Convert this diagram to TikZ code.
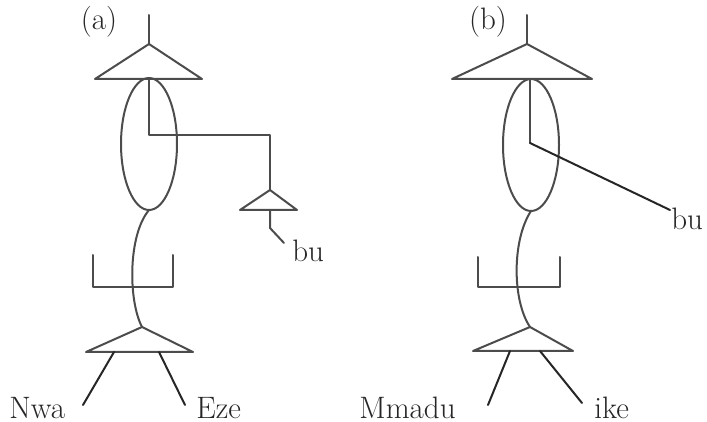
\documentclass[tikz,border=0pt]{standalone}
\begin{document}
\begin{tikzpicture}[
    x=0.5pt, y=-0.5pt,
    every node/.style={font=\fontsize{15.5}{18}\selectfont},
    word/.style={inner sep=0pt, text=black!85},
    branch/.style={draw=black!70, line width=1pt, line cap=round, line join=round},
    leg/.style={draw=black!85, line width=1pt, line cap=round}
]
\useasboundingbox (0,0) rectangle (707,422);

% Baum (a)
\node[word, anchor=base] (labA) at (99,30) {(a)};

\coordinate (aTop)   at (149,15);
\coordinate (aApex)  at (149,44);
\coordinate (aBL)    at (95,79);
\coordinate (aBR)    at (202,79);
\coordinate (aMid)   at (149,79);
\coordinate (aBend)  at (149,135);
\coordinate (aOut)   at (270,135);
\coordinate (aOval)  at (149,144);
\coordinate (aOvBot) at (149,210);

% kleiner Teilbaum mit bu
\coordinate (aSApex) at (270,190);
\coordinate (aSL)    at (240,210);
\coordinate (aSR)    at (297,210);
\coordinate (aSMid)  at (270,210);
\coordinate (aHook)  at (270,228);
\coordinate (aBuEnd) at (284,243);
\node[word, anchor=base west] (buA) at (292,262) {bu};

% Klammer und unteres Dreieck
\coordinate (aBrL)  at (93,255);
\coordinate (aBrLB) at (93,287);
\coordinate (aBrRB) at (173,287);
\coordinate (aBrR)  at (173,255);
\coordinate (aLApex) at (142,327);
\coordinate (aLL)    at (86,352);
\coordinate (aLR)    at (193,352);
\coordinate (aLegL)  at (114,352);
\coordinate (aFootL) at (83,405);
\coordinate (aLegR)  at (159,352);
\coordinate (aFootR) at (185,405);
\node[word, anchor=base west] (nwa) at (9,418) {Nwa};
\node[word, anchor=base west] (eze) at (196,418) {Eze};

\draw[branch] (aTop) -- (aApex);
\draw[branch] (aApex) -- (aBL) -- (aBR) -- cycle;
\draw[branch] (aOval) ellipse [x radius=28, y radius=66];
\draw[branch] (aMid) -- (aBend) -- (aOut) -- (aSApex);
\draw[branch] (aSApex) -- (aSL) -- (aSR) -- cycle;
\draw[branch] (aSMid) -- (aHook) -- (aBuEnd);
\draw[branch] (aOvBot) .. controls (128,235) and (128,300) .. (aLApex);
\draw[branch] (aBrL) -- (aBrLB) -- (aBrRB) -- (aBrR);
\draw[branch] (aLApex) -- (aLL) -- (aLR) -- cycle;
\draw[leg] (aLegL) -- (aFootL);
\draw[leg] (aLegR) -- (aFootR);

% Baum (b)
\node[word, anchor=base] (labB) at (488,30) {(b)};

\coordinate (bTop)   at (527,15);
\coordinate (bApex)  at (527,44);
\coordinate (bBL)    at (452,79);
\coordinate (bBR)    at (592,79);
\coordinate (bMid)   at (530,79);
\coordinate (bBend)  at (530,143);
\coordinate (bBuEnd) at (670,210);
\coordinate (bOval)  at (531,145);
\coordinate (bOvBot) at (531,211);
\node[word, anchor=base west] (buB) at (671,230) {bu};

% Klammer und unteres Dreieck
\coordinate (bBrL)  at (478,257);
\coordinate (bBrLB) at (478,287);
\coordinate (bBrRB) at (560,287);
\coordinate (bBrR)  at (560,257);
\coordinate (bLApex) at (530,327);
\coordinate (bLL)    at (473,351);
\coordinate (bLR)    at (573,351);
\coordinate (bLegL)  at (510,351);
\coordinate (bFootL) at (488,405);
\coordinate (bLegR)  at (540,351);
\coordinate (bFootR) at (582,403);
\node[word, anchor=base west] (mmadu) at (359,418) {Mmadu};
\node[word, anchor=base west] (ike)   at (594,418) {ike};

\draw[branch] (bTop) -- (bApex);
\draw[branch] (bApex) -- (bBL) -- (bBR) -- cycle;
\draw[branch] (bOval) ellipse [x radius=28, y radius=66];
\draw[branch] (bMid) -- (bBend);
\draw[leg] (bBend) -- (bBuEnd);
\draw[branch] (bOvBot) .. controls (512,240) and (512,300) .. (bLApex);
\draw[branch] (bBrL) -- (bBrLB) -- (bBrRB) -- (bBrR);
\draw[branch] (bLApex) -- (bLL) -- (bLR) -- cycle;
\draw[leg] (bLegL) -- (bFootL);
\draw[leg] (bLegR) -- (bFootR);

\end{tikzpicture}
\end{document}
